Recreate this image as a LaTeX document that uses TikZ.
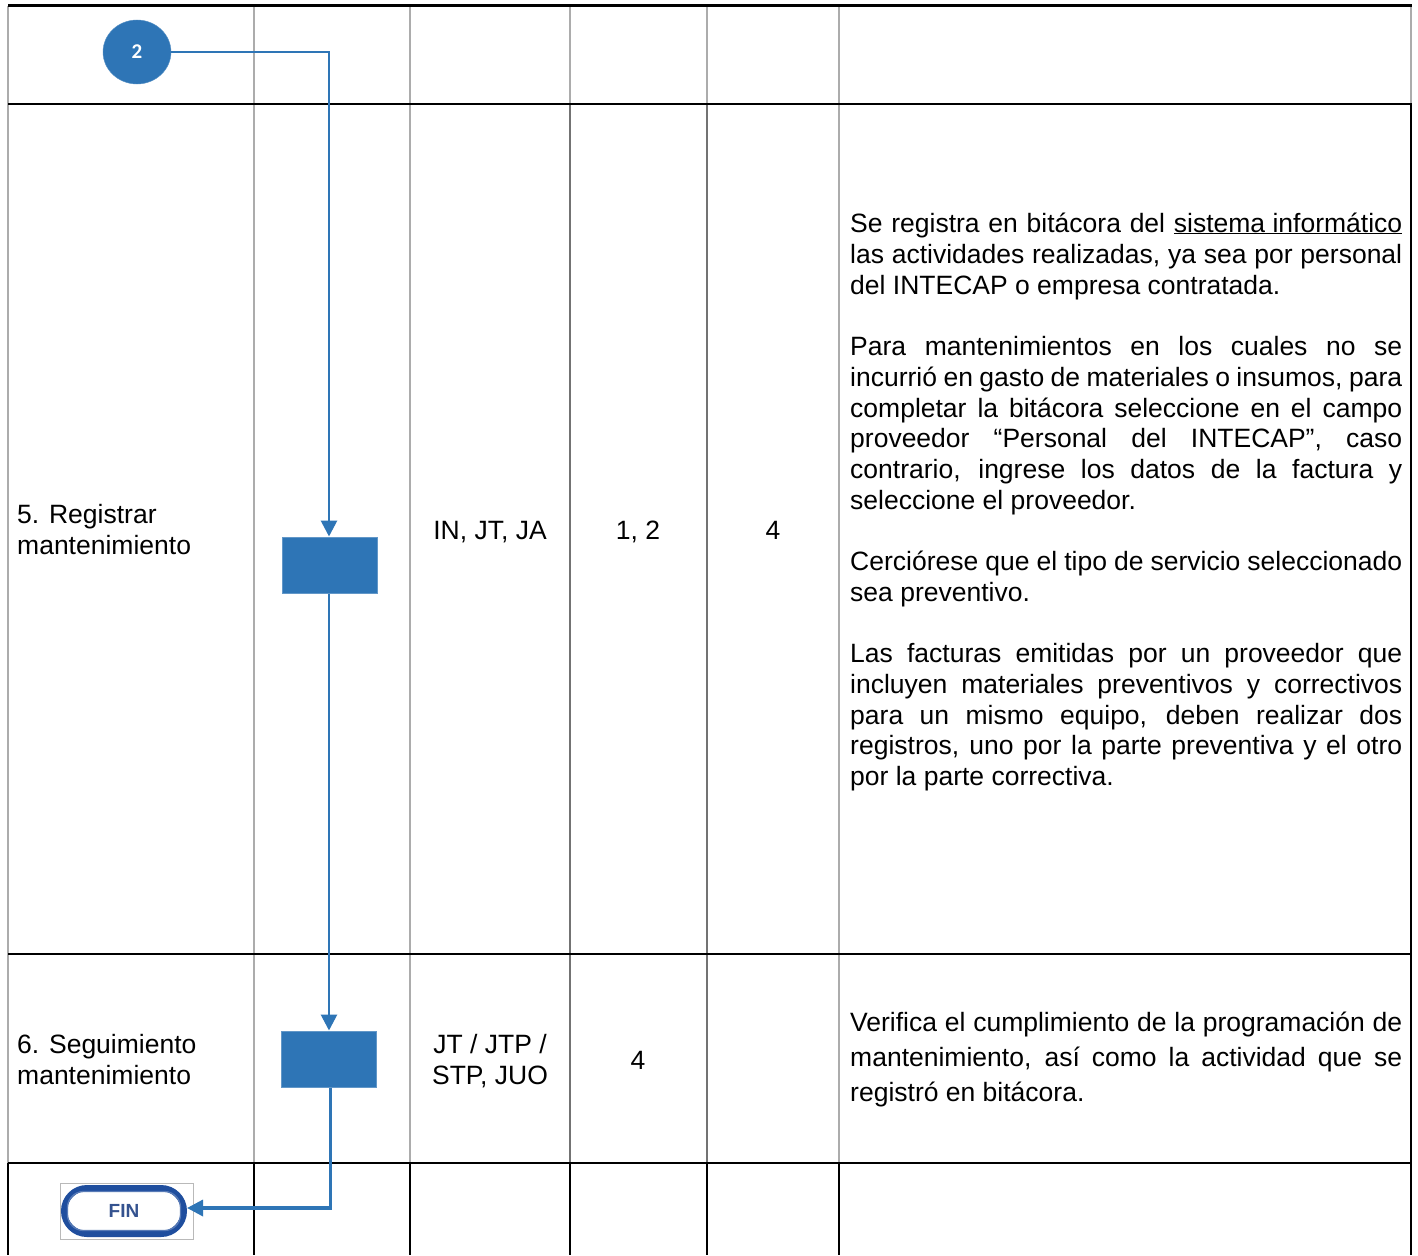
\documentclass[tikz,border=0pt]{standalone}
\usepackage{fontspec}
\setmainfont{Liberation Sans}
\newfontfamily\carl{Carlito}
\usetikzlibrary{arrows.meta,shapes.geometric}
\definecolor{flow}{HTML}{2E75B6}
\definecolor{finblue}{HTML}{1F4E9E}
\definecolor{fintext}{HTML}{34528F}
\begin{document}
\begin{tikzpicture}[x=1pt,y=-1pt,
  txt/.style={inner sep=0pt, font=\fontsize{26.5}{31}\selectfont},
  jl/.style={txt, anchor=base west},
  cl/.style={txt, anchor=base},
  gridl/.style={line width=1.5pt, draw=gray!65},
  gridd/.style={line width=1.5pt, draw=gray!90!black},
  rule/.style={line width=2pt, draw=black},
  conn/.style={draw=flow, line width=2.8pt, -{Triangle[width=16pt,length=16pt]}},
  act/.style={rectangle, fill=flow, draw=flow!75, line width=1pt, minimum width=95pt, minimum height=56pt, inner sep=0pt},
]
\useasboundingbox (0,0) rectangle (1418,1255);
\fill[white] (0,0) rectangle (1418,1255);

% table grid
\foreach \x in {8,254,410,839} {\draw[gridl] (\x,6) -- (\x,1163);}
\foreach \x in {570,707} {\draw[gridd] (\x,104) -- (\x,1163);}
\foreach \x in {570,707} {\draw[gridl] (\x,6) -- (\x,104);}
\foreach \x in {8,254,410,570,707,839} {\draw[rule,line width=1.5pt] (\x,1163) -- (\x,1255);}
\draw[gridl] (1411,6) -- (1411,104);
\draw[rule,line width=1.5pt] (1411,104) -- (1411,1255);
\draw[line width=3pt] (8,6) -- (1412,6);
\foreach \y in {104,954,1163} {\draw[rule] (8,\y) -- (1412,\y);}

% flow shapes
\node[ellipse, fill=flow, draw=flow!80, minimum width=68pt, minimum height=64pt, inner sep=0pt,
      font=\carl\bfseries\fontsize{21}{21}\selectfont, text=white] (c2) at (137,52) {2};
\node[act] (b1) at (330.2,565) {};
\node[act] (b2) at (328.5,1059) {};
\draw[gray!55, line width=1pt] (60,1183) rectangle (193,1239);
\node[rectangle, rounded corners=23pt, draw=finblue, line width=6pt, fill=white,
      minimum width=120pt, minimum height=46pt, inner sep=0pt,
      font=\bfseries\fontsize{19}{19}\selectfont, text=fintext] (fin) at (124,1211) {FIN};
\draw[finblue!75, line width=1.3pt, rounded corners=16pt]
  ([shift={(6.5,6.5)}]fin.north west) rectangle ([shift={(-6.5,-6.5)}]fin.south east);

% connectors
\draw[conn] (c2.east) -- (329,52) -- (b1.north -| 329,0);
\draw[conn] (b1.south -| 329,0) -- (b2.north -| 329,0);
\draw[conn, line width=3.3pt] (b2.south -| 330.3,0) -- (330.3,1208) -- (fin.east |- 0,1208);

% column 1
\node[jl] (s5a) at (17,523) {5. Registrar};
\node[jl] (s5b) at (17,554) {mantenimiento};
\node[jl] (s6a) at (17,1053) {6. Seguimiento};
\node[jl] (s6b) at (17,1084) {mantenimiento};

% columns 3-5
\node[cl] (r5) at (490,539) {IN, JT, JA};
\node[cl] (d5) at (638,539) {1, 2};
\node[cl] (f5) at (773,539) {4};
\node[cl] (r6a) at (490,1053) {JT / JTP /};
\node[cl] (r6b) at (490,1084) {STP, JUO};
\node[cl] (d6) at (638,1069) {4};

% column 6, row 5
\node[jl] (p1) at (850,232) {\makebox[552pt][s]{Se registra en bitácora del \underline{sistema informático}}};
\node[jl] (p2) at (850,263) {\makebox[552pt][s]{las actividades realizadas, ya sea por personal}};
\node[jl] (p3) at (850,294) {del INTECAP o empresa contratada.};
\node[jl] (q1) at (850,355) {\makebox[552pt][s]{Para mantenimientos en los cuales no se}};
\node[jl] (q2) at (850,386) {\makebox[552pt][s]{incurrió en gasto de materiales o insumos, para}};
\node[jl] (q3) at (850,417) {\makebox[552pt][s]{completar la bitácora seleccione en el campo}};
\node[jl] (q4) at (850,447) {\makebox[552pt][s]{proveedor “Personal del INTECAP”, caso}};
\node[jl] (q5) at (850,478) {\makebox[552pt][s]{contrario, ingrese los datos de la factura y}};
\node[jl] (q6) at (850,509) {seleccione el proveedor.};
\node[jl] (r1) at (850,570) {\makebox[552pt][s]{Cerciórese que el tipo de servicio seleccionado}};
\node[jl] (r2) at (850,601) {sea preventivo.};
\node[jl] (t1) at (850,662) {\makebox[552pt][s]{Las facturas emitidas por un proveedor que}};
\node[jl] (t2) at (850,693) {\makebox[552pt][s]{incluyen materiales preventivos y correctivos}};
\node[jl] (t3) at (850,724) {\makebox[552pt][s]{para un mismo equipo, deben realizar dos}};
\node[jl] (t4) at (850,754) {\makebox[552pt][s]{registros, uno por la parte preventiva y el otro}};
\node[jl] (t5) at (850,785) {por la parte correctiva.};

% column 6, row 6
\node[jl] (u1) at (850,1031) {\makebox[552pt][s]{Verifica el cumplimiento de la programación de}};
\node[jl] (u2) at (850,1066) {\makebox[552pt][s]{mantenimiento, así como la actividad que se}};
\node[jl] (u3) at (850,1101) {registró en bitácora.};
\end{tikzpicture}
\end{document}
